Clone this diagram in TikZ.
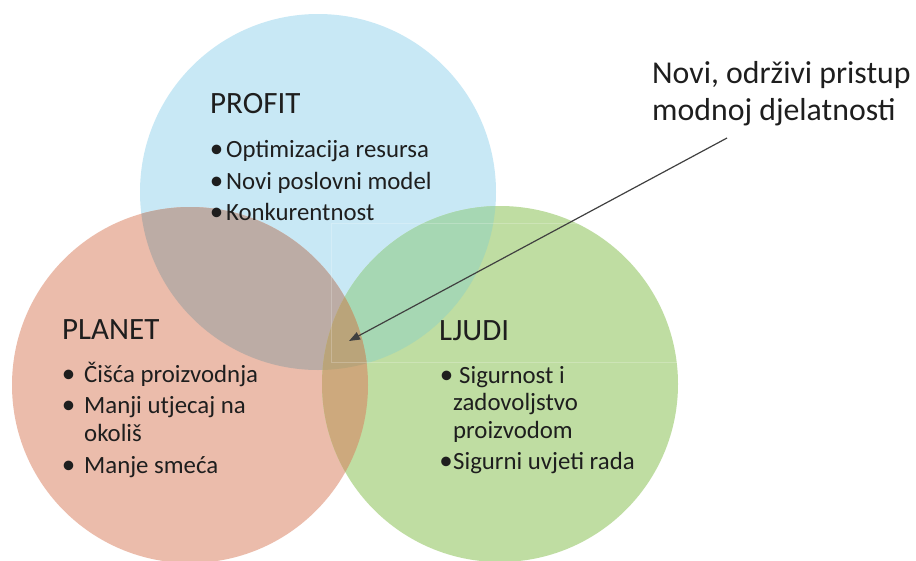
\documentclass[tikz,border=0pt]{standalone}
\usepackage{fontspec}
\setmainfont{Carlito}
\usetikzlibrary{arrows.meta}

\definecolor{plavo}{HTML}{C8E8F5}
\definecolor{crveno}{HTML}{EBBCAB}
\definecolor{zeleno}{HTML}{BFDDA2}
\definecolor{plavocrveno}{HTML}{BCACA5}
\definecolor{plavozeleno}{HTML}{A6D7B3}
\definecolor{crvenozeleno}{HTML}{CDA97D}
\definecolor{sredina}{HTML}{BAA47A}
\definecolor{tekst}{HTML}{1E1E1E}

\tikzset{
  naslov/.style={anchor=base west, inner sep=0pt, text=tekst, font=\fontsize{31}{37}\selectfont},
  stavka/.style={anchor=base west, inner sep=0pt, text=tekst, font=\fontsize{24.8}{30}\selectfont},
  tocka/.style={anchor=base, inner sep=0pt, text=tekst, font=\fontsize{27}{32}\selectfont},
  opis/.style={anchor=base west, inner sep=0pt, text=tekst, font=\fontsize{31.8}{38}\selectfont},
  strelica/.style={draw=tekst!85, line width=1.2pt, -{Triangle[length=11pt,width=8pt]}}
}

\begin{document}
\begin{tikzpicture}[x=1pt,y=-1pt]
\useasboundingbox (0,0) rectangle (916,560);

% krugovi
\fill[plavo] (318,192) circle (178);
\fill[crveno] (190,385) circle (178);
\fill[zeleno] (500,384) circle (178);

% presjeci
\begin{scope}
\clip (318,192) circle (178);
\fill[plavocrveno] (190,385) circle (178);
\fill[plavozeleno] (500,384) circle (178);
\end{scope}
\begin{scope}
\clip (190,385) circle (178);
\fill[crvenozeleno] (500,384) circle (178);
\clip (318,192) circle (178);
\fill[sredina] (500,384) circle (178);
\end{scope}

\draw[white, opacity=0.22, line width=0.6pt] (331,223) rectangle (679,362);

% PROFIT
\node[naslov] (profit) at (210,113) {PROFIT};
\node[tocka] (pr-t1) at (216.5,157) {•};
\node[stavka] (pr-s1) at (226,157) {Optimizacija resursa};
\node[tocka] (pr-t2) at (216.5,189) {•};
\node[stavka] (pr-s2) at (226,189) {Novi poslovni model};
\node[tocka] (pr-t3) at (216.5,220) {•};
\node[stavka] (pr-s3) at (226,220) {Konkurentnost};

% PLANET
\node[naslov] (planet) at (62,339) {PLANET};
\node[tocka] (pl-t1) at (68.5,382) {•};
\node[stavka] (pl-s1) at (84,382) {Čišća proizvodnja};
\node[tocka] (pl-t2) at (68.5,413) {•};
\node[stavka] (pl-s2) at (84,413) {Manji utjecaj na};
\node[stavka] (pl-s2b) at (84,441) {okoliš};
\node[tocka] (pl-t3) at (68.5,473) {•};
\node[stavka] (pl-s3) at (84,473) {Manje smeća};

% LJUDI
\node[naslov] (ljudi) at (439,340) {LJUDI};
\node[tocka] (lj-t1) at (446.5,383) {•};
\node[stavka] (lj-s1) at (459,383) {Sigurnost i};
\node[stavka] (lj-s1b) at (453,410) {zadovoljstvo};
\node[stavka] (lj-s1c) at (453,438) {proizvodom};
\node[tocka] (lj-t2) at (446,469) {•};
\node[stavka] (lj-s2) at (453,469) {Sigurni uvjeti rada};

% opis i strelica
\node[opis] (opis1) at (652,83) {Novi, održivi pristup};
\node[opis] (opis2) at (652,120) {modnoj djelatnosti};
\coordinate (str-pocetak) at (727,138);
\coordinate (str-kraj) at (349,341);
\draw[strelica] (str-pocetak) -- (str-kraj);
\end{tikzpicture}
\end{document}
